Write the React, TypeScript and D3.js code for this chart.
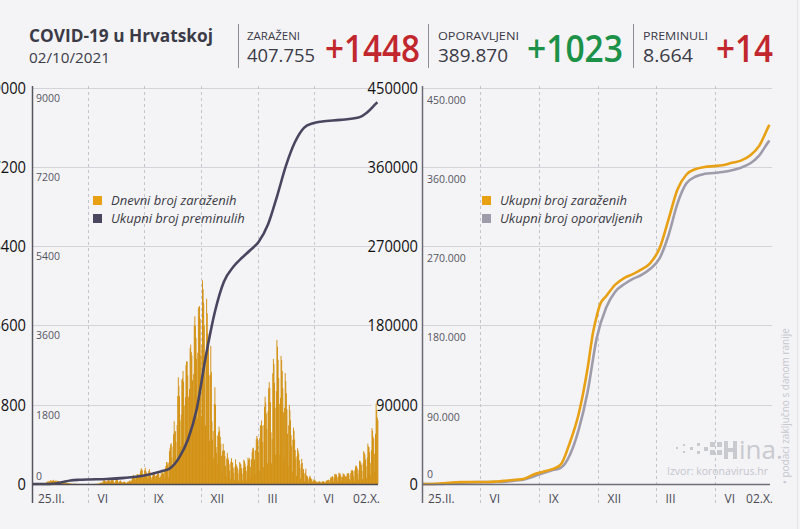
import React, { useEffect } from 'react';
import * as d3 from 'd3';

const W = 800;
const H = 529;
const FONT = "'Open Sans', 'Noto Sans', sans-serif";

const START_DATE = '2020-02-25';
const END_DATE = '2021-10-03';

// Dnevni broj zaraženih (daily new cases), one row per week starting Tuesday 25.02.2020
const dailyCases: number[] = [
  1, 1, 1, 0, 0, 0, 0,
  1, 0, 1, 1, 2, 0, 2,
  1, 3, 5, 5, 4, 11, 10,
  16, 24, 26, 30, 57, 48, 52,
  70, 60, 56, 91, 71, 56, 77,
  77, 96, 61, 67, 72, 81, 52,
  64, 74, 66, 50, 45, 49, 24,
  37, 48, 39, 29, 37, 29, 12,
  18, 22, 34, 23, 10, 21, 9,
  14, 9, 6, 7, 4, 4, 1,
  5, 8, 6, 4, 1, 3, 1,
  2, 2, 1, 1, 1, 0, 0,
  1, 0, 1, 0, 0, 0, 0,
  0, 0, 1, 2, 0, 0, 0,
  0, 0, 0, 0, 1, 0, 0,
  3, 1, 2, 3, 5, 4, 6,
  5, 9, 19, 21, 34, 30, 16,
  38, 67, 95, 81, 64, 59, 52,
  54, 75, 64, 93, 78, 78, 48,
  69, 93, 116, 94, 80, 48, 22,
  28, 79, 140, 114, 88, 35, 32,
  57, 67, 80, 61, 40, 38, 33,
  42, 54, 51, 38, 29, 28, 19,
  43, 60, 47, 66, 82, 60, 46,
  85, 180, 180, 208, 144, 126, 87,
  140, 177, 213, 225, 220, 200, 156,
  230, 292, 352, 346, 313, 230, 148,
  188, 305, 369, 295, 262, 235, 133,
  223, 296, 338, 274, 185, 148, 95,
  160, 220, 272, 222, 212, 182, 84,
  192, 209, 237, 251, 226, 148, 64,
  174, 261, 215, 256, 289, 235, 116,
  320, 363, 407, 497, 492, 443, 150,
  487, 748, 820, 899, 925, 605, 357,
  850, 1131, 1424, 1186, 1199, 948, 507,
  1338, 1999, 2421, 2223, 1987, 1443, 853,
  1575, 2368, 2397, 2566, 2323, 1779, 821,
  1969, 2699, 2783, 2782, 2467, 1978, 1049,
  2157, 3082, 3164, 2994, 2917, 2355, 1236,
  2495, 3603, 3809, 3588, 3317, 2839, 1492,
  2978, 4009, 3792, 4041, 3749, 2921, 1533,
  3148, 4620, 4422, 4111, 3600, 2920, 1327,
  2711, 4205, 3874, 3418, 3200, 2462, 979,
  2478, 3135, 2543, 1420, 1008, 1203, 587,
  1820, 2197, 1800, 840, 700, 1100, 446,
  1174, 1304, 1211, 1070, 917, 643, 248,
  749, 912, 771, 757, 637, 412, 175,
  575, 711, 596, 551, 448, 305, 117,
  498, 585, 490, 485, 368, 258, 97,
  394, 558, 445, 415, 372, 239, 78,
  330, 499, 465, 440, 359, 235, 78,
  367, 551, 520, 466, 389, 295, 103,
  420, 599, 543, 589, 558, 388, 143,
  559, 724, 805, 826, 756, 557, 211,
  766, 1016, 1091, 1033, 954, 710, 305,
  1045, 1334, 1323, 1442, 1319, 951, 384,
  1341, 1754, 1982, 1850, 1601, 1251, 466,
  1655, 2171, 2312, 2185, 1856, 1176, 468,
  1021, 2514, 2839, 2722, 2296, 1734, 664,
  2108, 3270, 3115, 2820, 2405, 1815, 661,
  1956, 2908, 2814, 2569, 2173, 1630, 573,
  1728, 2520, 2336, 2061, 1696, 1139, 411,
  1331, 1796, 1674, 1446, 1108, 869, 282,
  1004, 1280, 1207, 1008, 770, 584, 183,
  633, 812, 755, 684, 540, 356, 120,
  446, 570, 478, 248, 339, 238, 63,
  257, 345, 193, 186, 159, 108, 36,
  150, 191, 149, 119, 109, 61, 19,
  79, 112, 89, 76, 61, 48, 15,
  40, 53, 54, 58, 52, 35, 10,
  48, 60, 56, 60, 54, 39, 17,
  57, 75, 78, 90, 99, 86, 33,
  97, 143, 150, 164, 179, 146, 53,
  154, 227, 225, 189, 216, 147, 61,
  176, 257, 228, 245, 197, 163, 68,
  158, 241, 221, 220, 192, 168, 71,
  174, 240, 241, 247, 213, 108, 66,
  250, 308, 310, 311, 288, 178, 73,
  311, 392, 422, 405, 357, 233, 99,
  316, 529, 519, 483, 436, 294, 112,
  473, 745, 708, 667, 553, 404, 142,
  601, 915, 850, 836, 722, 480, 200,
  766, 1270, 1207, 1075, 1028, 689, 281,
  1138, 1823, 1674, 1509, 1448,
];

// Ukupni broj preminulih (cumulative deaths)
const deathDates = [
  '2020-02-25', '2020-03-20', '2020-03-31', '2020-04-15', '2020-04-30', '2020-05-15', '2020-05-31',
  '2020-06-30', '2020-07-31', '2020-08-31', '2020-09-30', '2020-10-15', '2020-10-31', '2020-11-15',
  '2020-11-30', '2020-12-15', '2020-12-31', '2021-01-15', '2021-01-31', '2021-02-15', '2021-02-28',
  '2021-03-15', '2021-03-31', '2021-04-15', '2021-04-30', '2021-05-15', '2021-05-31', '2021-06-15',
  '2021-06-30', '2021-07-31', '2021-08-31', '2021-09-15', '2021-09-30', '2021-10-02',
];
const deathValues = [
  0, 1, 6, 39, 79, 95, 103,
  113, 139, 188, 284, 350, 594, 1003,
  1704, 2870, 3920, 4590, 4930, 5140, 5300,
  5500, 5900, 6530, 7220, 7750, 8090, 8190,
  8230, 8265, 8320, 8440, 8640, 8664,
];

// Ukupni broj zaraženih (cumulative cases)
const casesDates = [
  '2020-02-25', '2020-03-15', '2020-03-31', '2020-04-15', '2020-04-30', '2020-05-31', '2020-06-15',
  '2020-06-30', '2020-07-15', '2020-07-31', '2020-08-15', '2020-08-31', '2020-09-15', '2020-09-30',
  '2020-10-15', '2020-10-31', '2020-11-15', '2020-11-30', '2020-12-09', '2020-12-15', '2020-12-21',
  '2020-12-31', '2021-01-15', '2021-01-31', '2021-02-15', '2021-02-28', '2021-03-15', '2021-03-31',
  '2021-04-15', '2021-04-30', '2021-05-15', '2021-05-31', '2021-06-15', '2021-06-30', '2021-07-15',
  '2021-07-31', '2021-08-15', '2021-08-31', '2021-09-15', '2021-09-30', '2021-10-02',
];
const casesValues = [
  1, 49, 867, 1704, 2076, 2246, 2264,
  2831, 3775, 4881, 6050, 10725, 13749, 16593,
  21500, 47000, 80000, 132000, 172000, 190000, 204000,
  213000, 226000, 234000, 238500, 243300, 250500, 267500,
  300000, 334000, 351000, 357500, 359800, 360800, 361800,
  364500, 367000, 373000, 384000, 405000, 407755,
];

// Ukupni broj oporavljenih (cumulative recovered)
const recoveredDates = [
  '2020-02-25', '2020-03-31', '2020-04-15', '2020-04-30', '2020-05-31', '2020-06-30', '2020-07-15',
  '2020-07-31', '2020-08-15', '2020-08-31', '2020-09-15', '2020-09-30', '2020-10-15', '2020-10-31',
  '2020-11-15', '2020-11-30', '2020-12-15', '2020-12-31', '2021-01-15', '2021-01-31', '2021-02-15',
  '2021-02-28', '2021-03-15', '2021-03-31', '2021-04-15', '2021-04-30', '2021-05-15', '2021-05-31',
  '2021-06-15', '2021-06-30', '2021-07-15', '2021-07-31', '2021-08-15', '2021-08-31', '2021-09-15',
  '2021-09-30', '2021-10-02',
];
const recoveredValues = [
  0, 67, 650, 1500, 2100, 2200, 2600,
  3900, 5200, 8500, 12200, 15300, 18000, 33000,
  62000, 105000, 165000, 200000, 218000, 227000, 233000,
  237000, 244000, 256000, 282000, 318000, 341000, 349000,
  352000, 353000, 354000, 356000, 359000, 364000, 373000,
  388000, 389870,
];

const leftAxisTicks = [0, 1800, 3600, 5400, 7200, 9000];
const rightAxisTicks = [0, 90000, 180000, 270000, 360000, 450000];
const monthLabels = ['VI', 'IX', 'XII', 'III', 'VI'];
const leftTickDates = ['2020-05-30', '2020-09-01', '2020-12-08', '2021-03-14', '2021-06-17'];
const rightTickDates = ['2020-06-01', '2020-09-09', '2020-12-17', '2021-03-25', '2021-07-03'];
const firstLabel = '25.II.';
const lastLabel = '02.X.';

const headerItems = [
  { label: 'ZARAŽENI', total: '407.755', change: '+1448', color: '#c1272d' },
  { label: 'OPORAVLJENI', total: '389.870', change: '+1023', color: '#1c9148' },
  { label: 'PREMINULI', total: '8.664', change: '+14', color: '#c1272d' },
];

const C_BAR = '#d28f0e';
const C_ORANGE = '#e8a015';
const C_DEATH = '#4a4660';
const C_GRAY = '#9e9caa';
const C_GRID = '#d3d3d9';
const C_TEXT = '#3b3b47';

export default function App() {
  useEffect(() => {
    document.body.style.margin = '0';
  }, []);

  const parse = d3.utcParse('%Y-%m-%d');
  const t0 = parse(START_DATE) as Date;
  const t1 = parse(END_DATE) as Date;

  const xL = d3.scaleUtc().domain([t0, t1]).range([32, 378]);
  const xR = d3.scaleUtc().domain([t0, t1]).range([422, 770]);
  const yL = d3.scaleLinear().domain([0, 9000]).range([484, 87.5]);
  const yR = d3.scaleLinear().domain([0, 450000]).range([484, 87.5]);

  const dotFmt = d3.formatLocale({ decimal: ',', thousands: '.', grouping: [3], currency: ['', ''] }).format(',');

  const deathLine = d3
    .line<[Date, number]>()
    .x((d) => xL(d[0]))
    .y((d) => yL(d[1]))
    .curve(d3.curveMonotoneX);
  const rightLine = d3
    .line<[Date, number]>()
    .x((d) => xR(d[0]))
    .y((d) => yR(d[1]))
    .curve(d3.curveMonotoneX);

  const deaths: [Date, number][] = deathDates.map((d, i) => [parse(d) as Date, deathValues[i]]);
  const cases: [Date, number][] = casesDates.map((d, i) => [parse(d) as Date, casesValues[i]]);
  const recovered: [Date, number][] = recoveredDates.map((d, i) => [parse(d) as Date, recoveredValues[i]]);

  const headerX = [
    { sep: 238.5, lx: 247, lw: 53, tw: 68, cx: 325, cw: 95 },
    { sep: 428.5, lx: 438, lw: 81, tw: 70, cx: 527, cw: 96 },
    { sep: 633.5, lx: 643, lw: 65, tw: 50, cx: 716, cw: 57 },
  ];

  const xAxis = (
    x: d3.ScaleTime<number, number>,
    tickDates: string[],
    x0: number,
    x1: number,
    key: string
  ) => (
    <g key={key}>
      {tickDates.map((d, i) => {
        const px = Math.round(x(parse(d) as Date)) + 0.5;
        return (
          <g key={i}>
            <line x1={px} x2={px} y1={86} y2={503} stroke="#c4c4cc" strokeWidth={1} strokeDasharray="3,3" />
            <text x={px + 9} y={503} fontSize={12} fill="#4a4a55" fontFamily={FONT}>
              {monthLabels[i]}
            </text>
          </g>
        );
      })}
      <text x={x0 + 6} y={503} fontSize={12} fill="#4a4a55" fontFamily={FONT}>
        {firstLabel}
      </text>
      <text x={x1 + 2} y={503} fontSize={12} fill="#4a4a55" fontFamily={FONT} textAnchor="end">
        {lastLabel}
      </text>
    </g>
  );

  return (
    <svg
      width={W}
      height={H}
      viewBox={`0 0 ${W} ${H}`}
      style={{ position: 'absolute', left: 0, top: 0, display: 'block' }}
    >
      <rect x={0} y={0} width={W} height={H} fill="#f4f4f7" />
      <line x1={797.5} x2={797.5} y1={0} y2={H} stroke="#e2e2e8" />

      {/* Header */}
      <text x={29} y={42} fontSize={18.5} fontWeight={700} fill={C_TEXT} fontFamily={FONT} textLength={184} lengthAdjust="spacingAndGlyphs">
        COVID-19 u Hrvatskoj
      </text>
      <text x={29} y={63} fontSize={15} fill={C_TEXT} fontFamily={FONT} textLength={81} lengthAdjust="spacingAndGlyphs">
        02/10/2021
      </text>
      {headerItems.map((h, i) => {
        const p = headerX[i];
        return (
          <g key={h.label}>
            <line x1={p.sep} x2={p.sep} y1={24} y2={68} stroke="#8e8e98" strokeWidth={1} />
            <text x={p.lx} y={40} fontSize={11.5} fill={C_TEXT} fontFamily={FONT} textLength={p.lw} lengthAdjust="spacingAndGlyphs">
              {h.label}
            </text>
            <text x={p.lx} y={62} fontSize={19} fill={C_TEXT} fontFamily={FONT} textLength={p.tw} lengthAdjust="spacingAndGlyphs">
              {h.total}
            </text>
            <text x={p.cx} y={62} fontSize={38} fontWeight={600} fill={h.color} fontFamily={FONT} textLength={p.cw} lengthAdjust="spacingAndGlyphs">
              {h.change}
            </text>
          </g>
        );
      })}

      {/* Left chart grid */}
      {leftAxisTicks.filter((t) => t > 0).map((t) => (
        <line key={'gl' + t} x1={32} x2={372} y1={Math.round(yL(t)) + 0.5} y2={Math.round(yL(t)) + 0.5} stroke={C_GRID} strokeWidth={1} />
      ))}
      {xAxis(xL, leftTickDates, 32, 378, 'xl')}

      {/* Right chart grid */}
      {rightAxisTicks.filter((t) => t > 0).map((t) => (
        <line key={'gr' + t} x1={422} x2={772} y1={Math.round(yR(t)) + 0.5} y2={Math.round(yR(t)) + 0.5} stroke={C_GRID} strokeWidth={1} />
      ))}
      {xAxis(xR, rightTickDates, 422, 771, 'xr')}

      {/* Watermark logo bottom right */}
      <g fill="#c9c9d0">
        {[
          [676, 447, 2], [683, 444, 2], [683, 451, 2], [690, 447, 3], [697, 443, 3], [697, 451, 3],
          [704, 447, 4], [710, 442, 5], [710, 450, 5], [717, 442, 5], [717, 450, 5],
        ].map(([x, y, s], i) => (
          <rect key={i} x={x} y={y} width={s} height={s} />
        ))}
        <rect x={724} y={441} width={4} height={18} />
        <rect x={728} y={448} width={5} height={4} />
        <rect x={733} y={441} width={4} height={18} />
        <text x={739} y={459} fontSize={26} fontFamily={FONT} fill="#c9c9d0">ina.</text>
      </g>
      <text x={768} y={475} fontSize={10.5} textAnchor="end" fill="#c4c4cc" fontFamily={FONT}>
        Izvor: koronavirus.hr
      </text>
      <text
        transform="translate(789,406) rotate(-90)"
        fontSize={10}
        textAnchor="middle"
        fill="#c6c6ce"
        fontFamily={FONT}
      >
        • podaci zaključno s danom ranije
      </text>

      {/* Left chart bars */}
      <g fill={C_BAR}>
        {dailyCases.map((v, i) => {
          const d0 = d3.utcDay.offset(t0, i);
          const d1 = d3.utcDay.offset(t0, i + 1);
          const xa = xL(d0);
          const xb = xL(d1);
          return <rect key={i} x={xa} y={yL(v)} width={xb - xa + 0.35} height={yL(0) - yL(v)} />;
        })}
      </g>
      <path d={deathLine(deaths) || ''} fill="none" stroke={C_DEATH} strokeWidth={2.6} />

      {/* Right chart lines */}
      <path d={rightLine(recovered) || ''} fill="none" stroke={C_GRAY} strokeWidth={2.6} />
      <path d={rightLine(cases) || ''} fill="none" stroke={C_ORANGE} strokeWidth={2.6} />

      {/* Axes lines */}
      <line x1={32.5} x2={32.5} y1={86} y2={503} stroke="#555560" strokeWidth={1.5} />
      <line x1={32} x2={378} y1={484.5} y2={484.5} stroke="#4c4a55" strokeWidth={1.5} />
      <line x1={422.5} x2={422.5} y1={86} y2={503} stroke="#6a6a74" strokeWidth={1.5} />
      <line x1={422} x2={770} y1={484.5} y2={484.5} stroke="#6e6e78" strokeWidth={1.5} />

      {/* Left chart small axis labels */}
      {leftAxisTicks.map((t) => (
        <text key={'sl' + t} x={36} y={t > 0 ? yL(t) + 14 : yL(t) - 4} fontSize={10.5} fill="#55555f" fontFamily={FONT}>
          {String(t)}
        </text>
      ))}
      {/* Left big axis labels (cut at edge, as in the original) */}
      {leftAxisTicks.map((t) => (
        <text key={'bl' + t} x={26} y={yL(t) + 6} fontSize={17} fill="#111" fontFamily={FONT} textAnchor="end" textLength={String(t).length * 8.4} lengthAdjust="spacingAndGlyphs">
          {String(t)}
        </text>
      ))}
      {/* Big right axis labels of the left panel */}
      {rightAxisTicks.map((t) => (
        <text key={'br' + t} x={418} y={yR(t) + 6} fontSize={17} fill="#111" fontFamily={FONT} textAnchor="end" textLength={String(t).length * 8.4} lengthAdjust="spacingAndGlyphs">
          {String(t)}
        </text>
      ))}
      {/* Right chart small axis labels */}
      {rightAxisTicks.map((t) => (
        <text key={'sr' + t} x={427} y={t > 0 ? yR(t) + 16 : yR(t) - 6} fontSize={10.5} fill="#55555f" fontFamily={FONT}>
          {dotFmt(t)}
        </text>
      ))}

      {/* Legends */}
      <g fontFamily={FONT} fontStyle="italic" fontSize={13} fill="#3a3a44">
        <rect x={93} y={196} width={9} height={9} fill={C_ORANGE} />
        <text x={111} y={205}>Dnevni broj zaraženih</text>
        <rect x={93} y={214} width={9} height={9} fill={C_DEATH} />
        <text x={111} y={223}>Ukupni broj preminulih</text>

        <rect x={482} y={196} width={9} height={9} fill={C_ORANGE} />
        <text x={500} y={205}>Ukupni broj zaraženih</text>
        <rect x={482} y={214} width={9} height={9} fill={C_GRAY} />
        <text x={500} y={223}>Ukupni broj oporavljenih</text>
      </g>
    </svg>
  );
}
